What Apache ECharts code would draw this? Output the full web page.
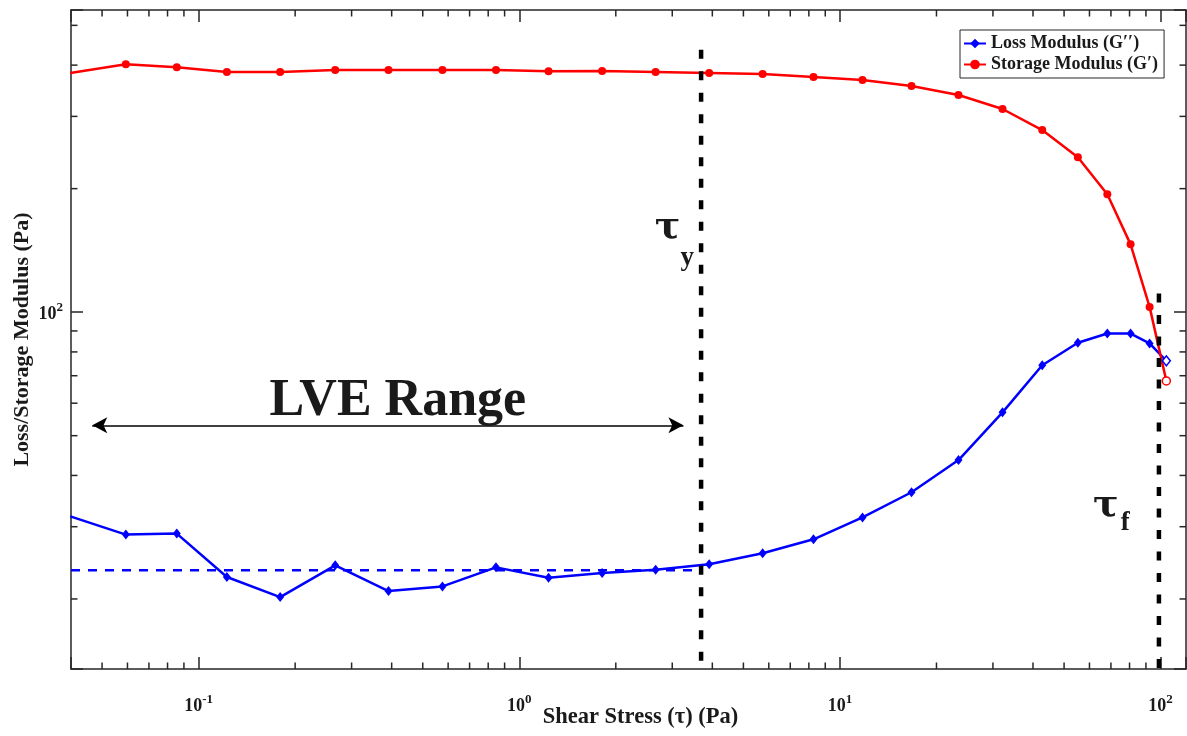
<!DOCTYPE html>
<html><head><meta charset="utf-8">
<script src="https://cdn.jsdelivr.net/npm/echarts@6/dist/echarts.min.js"></script>
<style>html,body{margin:0;padding:0;background:#fff}#c{width:1187px;height:736px}</style>
</head><body><div id="c"></div>
<script>
// ---- data ----
const shearStress = [0.0398, 0.0593, 0.0855, 0.1225, 0.1796, 0.2667, 0.391, 0.576, 0.846, 1.234, 1.813, 2.662, 3.91, 5.74, 8.27, 11.76, 16.72, 23.43, 32.14, 42.74, 55.2, 68.2, 80.6, 92.4, 104.2];
const storageModulus = [382.7, 401.9, 395.3, 384.9, 384.9, 389.3, 389.3, 389.3, 389.3, 386.5, 387.0, 384.9, 382.7, 380.6, 374.3, 368.1, 355.8, 338.3, 312.7, 277.9, 238.4, 193.7, 146.3, 103.0, 68.0];
const lossModulus = [31.8, 28.7, 28.86, 22.62, 20.21, 24.15, 20.9, 21.46, 23.88, 22.54, 23.13, 23.57, 24.29, 25.84, 27.95, 31.6, 36.4, 43.6, 57.0, 74.25, 84.2, 88.7, 88.7, 83.9, 76.1];
const xMinorTicks = [0.05,0.06,0.07,0.08,0.09,0.2,0.3,0.4,0.5,0.6,0.7,0.8,0.9,2,3,4,5,6,7,8,9,20,30,40,50,60,70,80,90];
const yMinorTicks = [20,30,40,50,60,70,80,90,200,300,400,500];
const xRange = [0.04, 120];
const yRange = [13.5, 545];
const lveBaseline = [[0.04, 23.5], [3.7, 23.5]];
const yieldStressLine = [[3.69, 436], [3.69, 13.5]];
const flowStressLine = [[98.8, 111], [98.8, 13.5]];
const lveArrow = [[0.0466, 53], [3.25, 53]];
const lveText = {text: 'LVE Range', at: [0.418, 60.4]};
const tauY = {main: [2.90, 160], sub: [3.34, 135.5], subText: 'y'};
const tauF = {main: [67.5, 33.6], sub: [77.6, 30.6], subText: 'f'};

// ---- styling ----
const FONT = "'Liberation Serif','Times New Roman',serif";
const TAUFONT = "'DejaVu Serif','Liberation Serif',serif";
const AX = '#262626';
const TXT = '#1a1a1a';

function zip(xs, ys) { return xs.map((x, i) => [x, ys[i]]); }
function hollowLast(arr, color) {
  return arr.map((p, i) => i === arr.length - 1
    ? {value: p, itemStyle: {color: '#fff', borderColor: color, borderWidth: 1.5}}
    : p);
}
function powLabel(v) {
  const e = Math.log10(v); const r = Math.round(e);
  if (Math.abs(e - r) > 1e-6) return '';
  return '{b|10}{e|' + r + '}';
}
const labelRich = {
  b: {fontFamily: FONT, fontWeight: 'bold', fontSize: 18, lineHeight: 22, verticalAlign: 'bottom', color: TXT},
  e: {fontFamily: FONT, fontWeight: 'bold', fontSize: 13, lineHeight: 22, verticalAlign: 'top', color: TXT}
};
function textPoint(coord, text, size, family) {
  return {coord: coord, symbol: 'rect', symbolSize: 1, itemStyle: {color: 'rgba(0,0,0,0)'},
    label: {show: true, position: 'inside', formatter: text, fontFamily: family || FONT, fontWeight: 'bold', fontSize: size, color: TXT}};
}
const axisLineStyle = {show: true, lineStyle: {color: AX, width: 1.5}};
const majorTick = {show: true, inside: true, length: 12, lineStyle: {color: AX, width: 1.5}};

const chart = echarts.init(document.getElementById('c'), null, {renderer: 'canvas'});
chart.setOption({
  animation: false,
  backgroundColor: '#fff',
  grid: {left: 71, right: 1, top: 10, bottom: 67, containLabel: false, outerBoundsMode: 'none'},
  legend: {
    orient: 'vertical', left: 960, top: 30, padding: [4, 6, 4, 3],
    itemWidth: 22, itemHeight: 12, itemGap: 2,
    borderColor: AX, borderWidth: 1, backgroundColor: '#fff',
    data: ['Loss Modulus (G′′)', 'Storage Modulus (G′)'],
    textStyle: {fontFamily: FONT, fontWeight: 'bold', fontSize: 18, lineHeight: 19, color: TXT}
  },
  xAxis: [{
    type: 'log', min: xRange[0], max: xRange[1], logBase: 10,
    name: 'Shear Stress (τ) (Pa)', nameLocation: 'middle', nameGap: 37, nameMoveOverlap: false,
    nameTextStyle: {fontFamily: FONT, fontWeight: 'bold', fontSize: 22.5, color: TXT, padding: [0, 0, 0, 24]},
    axisLine: axisLineStyle, axisTick: majorTick, splitLine: {show: false},
    axisLabel: {formatter: powLabel, rich: labelRich, margin: 24}
  }, {
    type: 'log', min: xRange[0], max: xRange[1], logBase: 10, position: 'top',
    axisLine: axisLineStyle, axisTick: majorTick, splitLine: {show: false}, axisLabel: {show: false}
  }],
  yAxis: [{
    type: 'log', min: yRange[0], max: yRange[1], logBase: 10,
    name: 'Loss/Storage Modulus (Pa)', nameLocation: 'middle', nameGap: 38, nameMoveOverlap: false,
    nameTextStyle: {fontFamily: FONT, fontWeight: 'bold', fontSize: 22, color: TXT},
    axisLine: axisLineStyle, axisTick: majorTick, splitLine: {show: false},
    axisLabel: {formatter: powLabel, rich: labelRich, margin: 8}
  }, {
    type: 'log', min: yRange[0], max: yRange[1], logBase: 10, position: 'right',
    axisLine: axisLineStyle, axisTick: majorTick, splitLine: {show: false}, axisLabel: {show: false}
  }],
  series: [
    {
      name: 'Loss Modulus (G′′)', type: 'line', data: hollowLast(zip(shearStress, lossModulus), '#0000ff'),
      symbol: 'diamond', symbolSize: [8, 10], showAllSymbol: true,
      lineStyle: {color: '#0000ff', width: 2.5}, itemStyle: {color: '#0000ff'}, z: 3
    },
    {
      name: 'Storage Modulus (G′)', type: 'line', data: hollowLast(zip(shearStress, storageModulus), '#ff0000'),
      symbol: 'circle', symbolSize: 8, showAllSymbol: true,
      lineStyle: {color: '#ff0000', width: 2.5}, itemStyle: {color: '#ff0000'}, z: 3
    },
    {
      name: 'lve', type: 'line', data: lveBaseline, symbol: 'none', silent: true,
      lineStyle: {color: '#0000ff', width: 2.5, type: [9, 8]}, z: 2,
      markLine: {
        silent: true, symbol: ['arrow', 'arrow'], symbolSize: [12, 15],
        lineStyle: {color: '#000', width: 1.5, type: 'solid'}, label: {show: false},
        data: [[{coord: lveArrow[0]}, {coord: lveArrow[1]}]]
      },
      markPoint: {
        silent: true,
        data: [
          textPoint(lveText.at, lveText.text, 52),
          textPoint(tauY.main, 'τ', 38, TAUFONT), textPoint(tauY.sub, tauY.subText, 27),
          textPoint(tauF.main, 'τ', 38, TAUFONT), textPoint(tauF.sub, tauF.subText, 27)
        ]
      }
    },
    {
      name: 'yield', type: 'line', data: yieldStressLine, symbol: 'none', silent: true,
      lineStyle: {color: '#000', width: 4.5, type: [9, 12.5]}, z: 4
    },
    {
      name: 'flow', type: 'line', data: flowStressLine, symbol: 'none', silent: true,
      lineStyle: {color: '#000', width: 4.5, type: [9, 12.5]}, z: 4
    },
    {
      name: 'xminor', type: 'custom', silent: true, z: 5,
      data: xMinorTicks.map(v => [v, 100]),
      renderItem: function (params, api) {
        const cs = params.coordSys;
        const px = api.coord([api.value(0), api.value(1)])[0];
        const b = cs.y + cs.height;
        const st = {stroke: AX, lineWidth: 1.5};
        return {type: 'group', children: [
          {type: 'line', shape: {x1: px, y1: b, x2: px, y2: b - 6.5}, style: st},
          {type: 'line', shape: {x1: px, y1: cs.y, x2: px, y2: cs.y + 6.5}, style: st}
        ]};
      }
    },
    {
      name: 'yminor', type: 'custom', silent: true, z: 5,
      data: yMinorTicks.map(v => [1, v]),
      renderItem: function (params, api) {
        const cs = params.coordSys;
        const py = api.coord([api.value(0), api.value(1)])[1];
        const r = cs.x + cs.width;
        const st = {stroke: AX, lineWidth: 1.5};
        return {type: 'group', children: [
          {type: 'line', shape: {x1: cs.x, y1: py, x2: cs.x + 6.5, y2: py}, style: st},
          {type: 'line', shape: {x1: r, y1: py, x2: r - 6.5, y2: py}, style: st}
        ]};
      }
    }
  ]
});
</script>
</body></html>
